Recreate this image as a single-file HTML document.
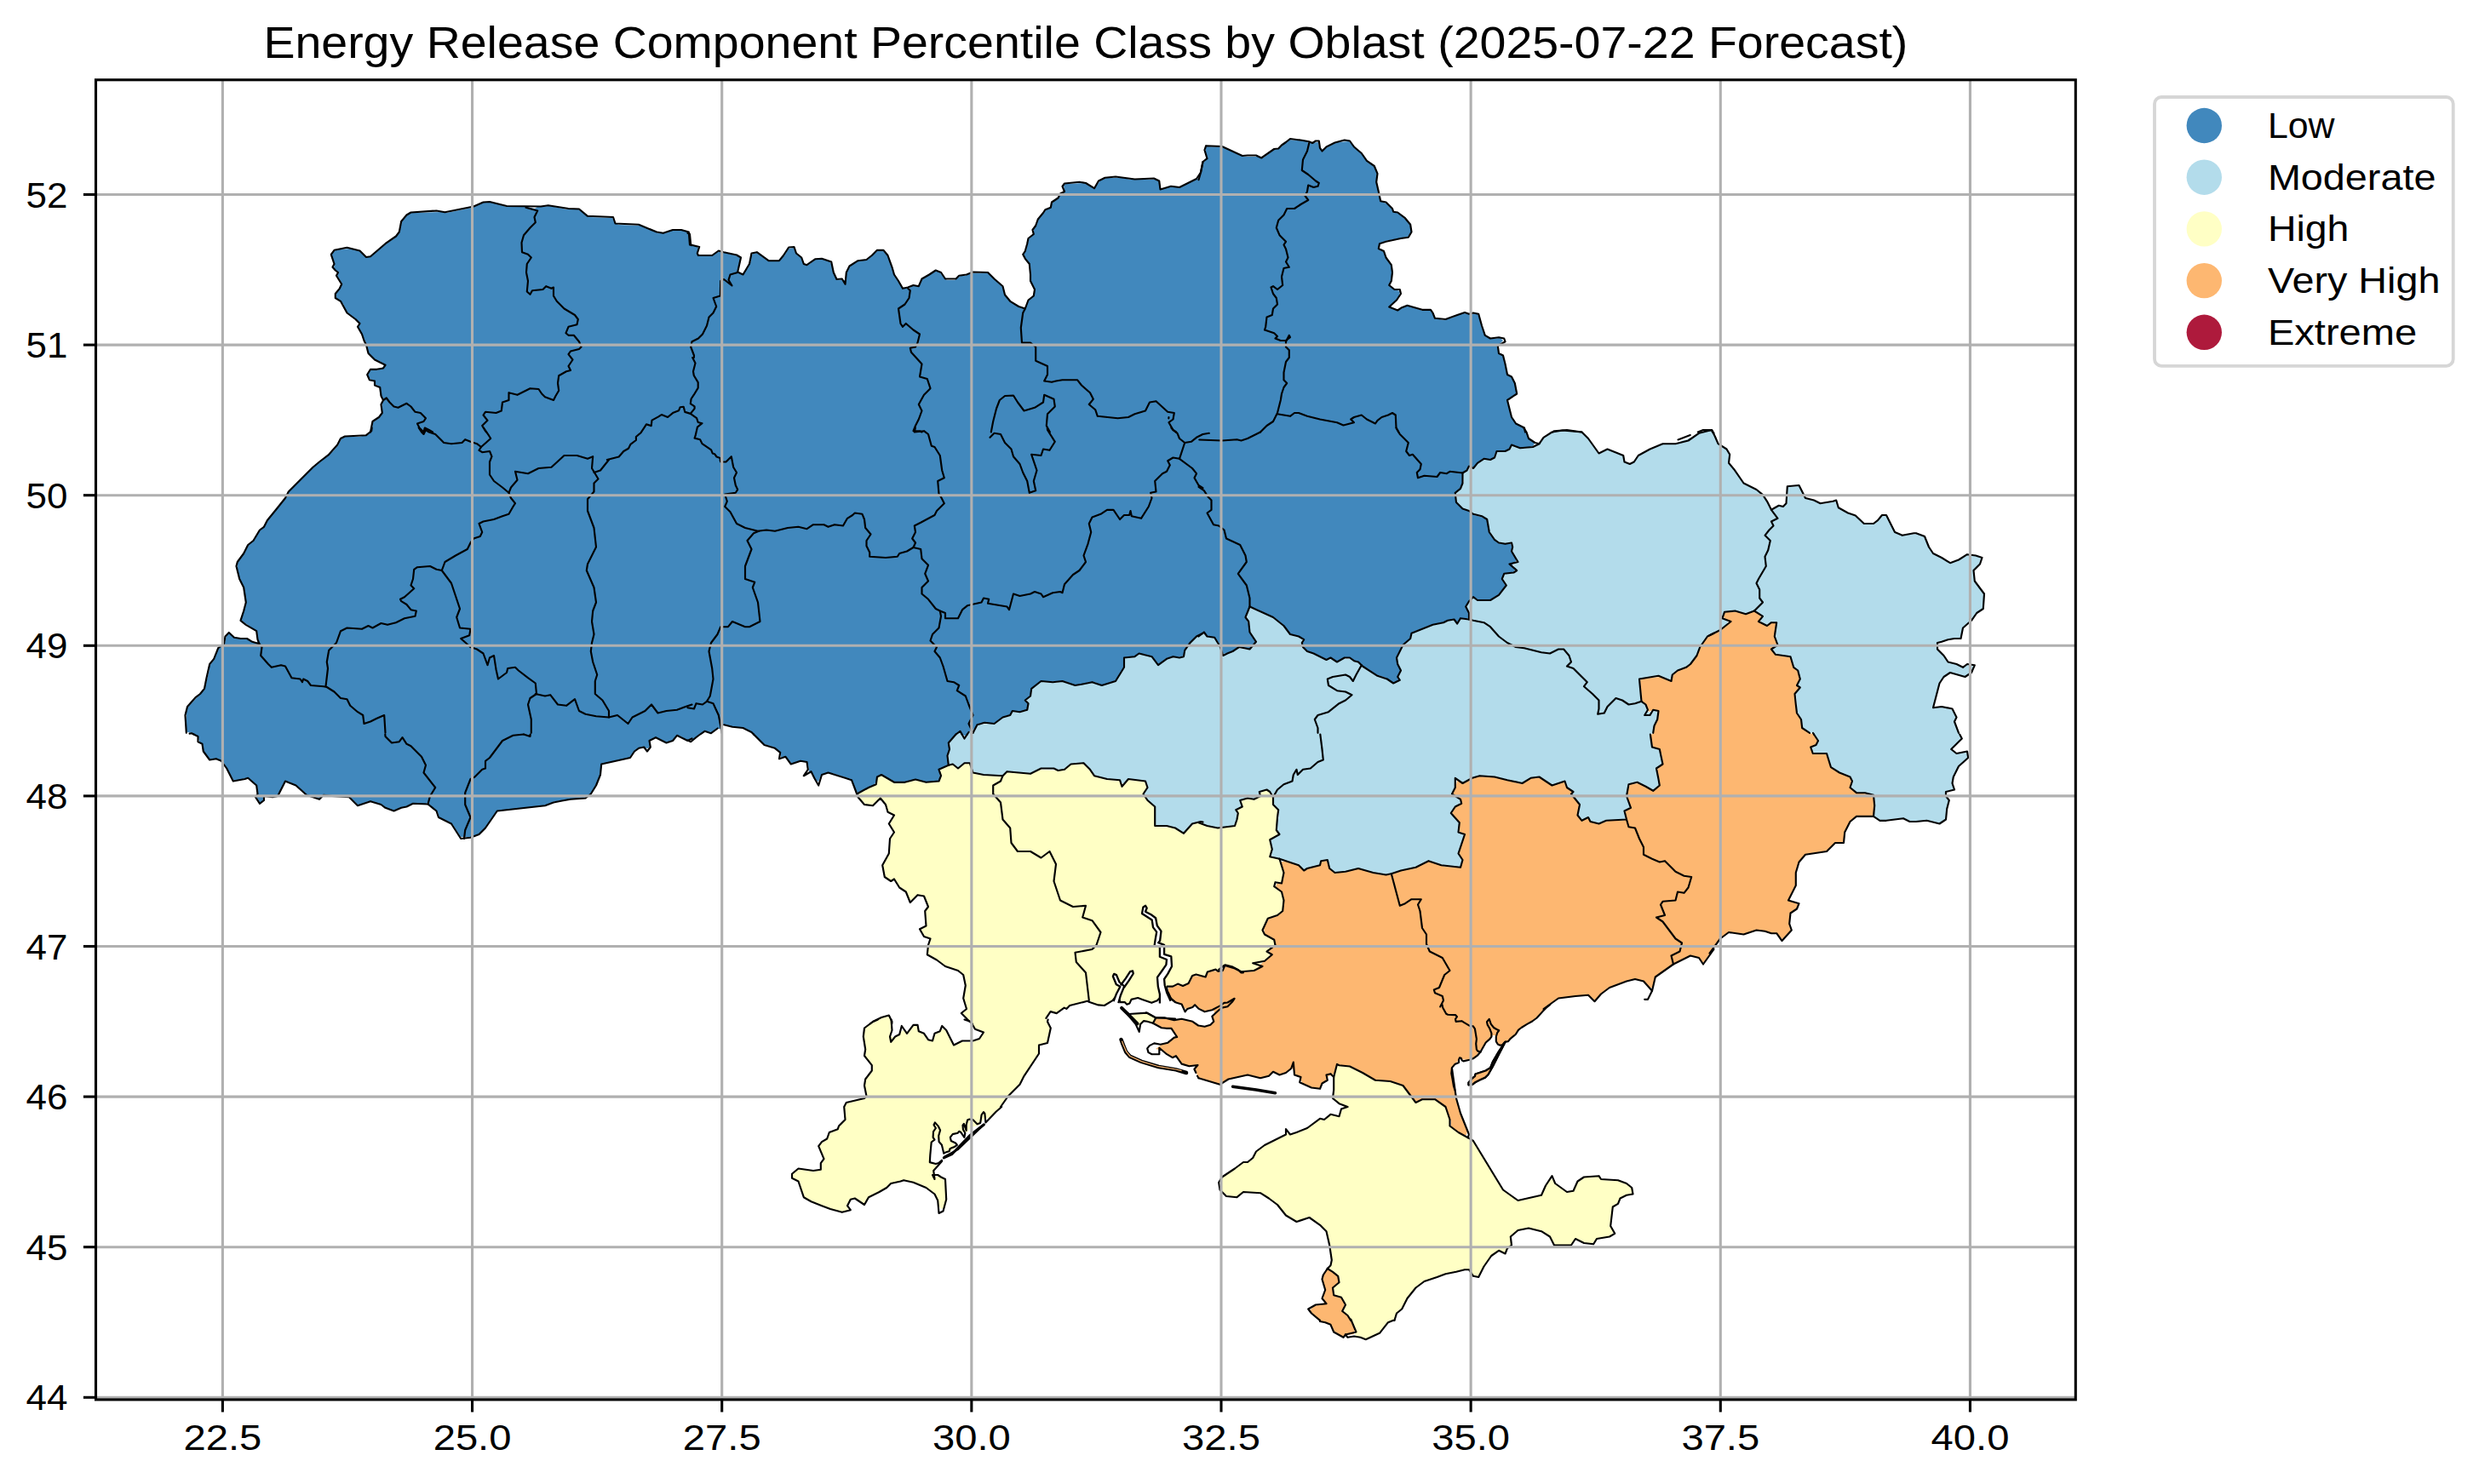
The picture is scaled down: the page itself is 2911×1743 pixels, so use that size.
<!DOCTYPE html>
<html><head><meta charset="utf-8"><style>html,body{margin:0;padding:0;background:#fff;overflow:hidden}svg{display:block}</style></head>
<body><svg xmlns="http://www.w3.org/2000/svg" width="2911" height="1743" viewBox="0 0 2911 1743">
<rect width="2911" height="1743" fill="#fff"/>
<g><path fill="#4188bd" fill-rule="evenodd" d="M1802 521 1794 514 1793 509 1790 504 1787 501 1780 498 1774 489 1770 471 1772 468 1779 464 1781 461 1779 451 1775 443 1771 441 1769 438 1765 418 1761 416 1759 413 1759 406 1765 400 1762 397 1750 398 1743 393 1739 382 1738 375 1735 369 1717 368 1706 373 1695 376 1686 374 1683 371 1683 369 1680 365 1671 365 1656 360 1650 360 1641 365 1636 363 1633 360 1643 348 1644 342 1637 340 1632 336 1635 321 1633 310 1628 304 1625 296 1619 292 1619 288 1622 285 1627 283 1653 278 1657 273 1657 267 1654 261 1643 251 1637 249 1630 240 1623 237 1620 234 1620 230 1616 216 1617 203 1614 196 1607 191 1600 182 1584 166 1570 167 1553 176 1549 172 1548 167 1537 168 1534 166 1514 164 1501 175 1496 176 1484 185 1481 186 1478 184 1461 184 1457 183 1437 173 1417 172 1416 173 1416 180 1418 186 1413 191 1411 202 1408 209 1384 221 1383 220 1372 220 1364 222 1362 220 1361 213 1358 211 1328 211 1319 209 1299 209 1292 212 1285 221 1273 215 1251 216 1249 218 1250 224 1235 239 1234 243 1229 246 1219 258 1217 265 1214 269 1214 275 1208 281 1205 294 1202 299 1204 304 1210 312 1211 331 1215 338 1215 346 1208 353 1203 362 1199 362 1186 354 1180 347 1177 337 1161 321 1140 321 1133 324 1128 324 1121 329 1112 329 1109 327 1103 319 1098 319 1084 327 1082 329 1081 333 1078 336 1071 336 1067 339 1061 339 1051 325 1043 302 1038 295 1030 295 1019 305 1007 307 999 312 995 318 992 329 985 329 981 326 978 319 977 311 974 307 968 305 957 305 951 310 947 312 943 309 941 303 935 298 932 291 926 292 921 300 913 307 901 306 889 297 884 298 882 301 882 306 878 315 871 322 867 319 867 313 869 307 869 303 867 301 848 296 842 296 834 301 823 301 819 298 820 291 817 289 814 289 810 286 809 275 806 272 803 271 788 271 781 274 773 274 753 265 726 264 721 260 719 256 692 255 682 247 679 246 666 246 646 242 631 243 628 245 619 243 595 243 578 238 567 238 554 244 524 250 519 249 483 250 479 252 472 260 469 274 463 280 452 287 436 301 430 302 422 295 412 292 397 293 392 295 390 298 390 302 393 309 392 315 397 320 396 324 401 332 401 336 395 344 395 350 403 357 407 366 422 379 421 384 430 403 433 415 440 422 447 425 451 429 448 433 442 435 435 435 432 440 433 444 438 447 441 452 444 453 447 456 448 465 451 469 449 473 449 486 445 491 438 496 436 507 433 510 422 513 405 513 401 515 397 523 391 530 371 546 339 578 336 585 314 611 311 618 305 623 299 634 292 640 287 650 279 660 279 670 282 681 287 690 288 700 289 701 289 710 284 725 284 729 302 742 303 753 301 755 298 755 291 751 277 750 269 744 266 746 264 755 256 762 252 774 246 782 246 786 240 810 220 831 219 835 219 858 220 860 226 861 233 866 234 871 239 876 239 882 247 892 256 891 263 896 274 916 277 917 288 914 292 914 302 923 303 933 301 936 305 942 307 942 309 940 311 935 316 935 317 936 325 935 327 933 333 920 335 918 339 918 349 923 361 934 373 938 377 937 380 934 411 936 420 945 423 945 433 941 437 941 444 944 447 944 454 949 461 952 466 951 471 948 476 948 483 944 500 944 502 943 514 954 516 960 529 966 532 969 541 983 549 983 550 984 562 980 572 970 580 957 585 952 635 947 646 944 649 942 659 940 688 937 694 932 698 926 705 909 706 899 708 897 739 890 745 882 750 878 761 879 763 877 763 870 767 867 770 866 783 872 789 870 796 864 800 865 806 869 813 869 826 859 836 860 841 856 846 856 846 854 851 851 861 854 874 855 882 859 897 874 910 878 916 883 917 889 923 889 930 897 937 894 946 894 949 898 950 906 955 910 958 916 961 918 964 911 969 908 977 908 999 915 1001 917 1005 929 1007 931 1011 930 1026 922 1029 918 1030 913 1034 910 1038 911 1052 919 1061 919 1070 916 1080 916 1088 919 1089 918 1100 918 1103 916 1104 913 1103 904 1113 898 1113 884 1115 880 1114 872 1125 860 1128 860 1132 864 1134 864 1137 860 1142 858 1149 850 1153 849 1164 849 1166 850 1169 849 1176 843 1183 840 1186 840 1189 835 1198 836 1205 834 1207 830 1207 826 1205 824 1205 822 1210 816 1211 809 1222 800 1229 800 1230 801 1250 800 1263 805 1280 801 1285 801 1292 804 1297 804 1304 801 1307 801 1311 798 1320 783 1320 774 1322 772 1332 771 1336 768 1343 768 1353 771 1358 778 1361 780 1370 773 1376 771 1381 772 1388 771 1390 769 1391 763 1396 756 1405 747 1409 746 1411 744 1415 744 1420 748 1426 748 1433 758 1435 766 1437 768 1445 766 1454 760 1467 762 1470 760 1474 754 1467 742 1467 735 1463 726 1464 719 1468 713 1475 715 1496 725 1505 732 1516 745 1527 748 1530 751 1530 759 1536 765 1543 767 1556 774 1565 773 1570 777 1577 773 1587 773 1590 776 1595 777 1599 782 1607 786 1615 792 1627 796 1636 802 1642 799 1641 795 1644 789 1644 786 1640 777 1640 771 1646 759 1656 750 1657 745 1660 742 1680 734 1695 731 1701 728 1708 728 1710 730 1712 730 1715 726 1720 727 1724 726 1725 721 1721 713 1724 707 1730 701 1737 705 1748 705 1758 700 1768 688 1764 681 1765 676 1768 673 1775 673 1779 670 1776 663 1780 659 1780 656 1775 648 1776 643 1774 639 1762 639 1757 636 1750 628 1748 624 1746 611 1743 608 1731 605 1725 600 1718 598 1710 590 1709 578 1715 573 1718 566 1717 556 1726 548 1730 549 1741 539 1748 539 1749 540 1754 538 1756 532 1758 530 1767 530 1771 528 1775 523 1779 523 1785 526 1791 526 1800 524Z"/><path fill="#b3dceb" fill-rule="evenodd" d="M2326 656 2321 653 2309 652 2296 660 2289 661 2271 651 2264 642 2262 635 2259 630 2252 627 2232 629 2226 626 2215 606 2210 606 2201 615 2191 616 2186 613 2179 606 2172 604 2162 599 2158 595 2157 591 2155 589 2140 592 2131 588 2121 586 2112 571 2100 572 2099 573 2099 589 2094 595 2087 595 2081 598 2077 594 2072 584 2064 576 2049 569 2045 565 2039 555 2030 544 2031 536 2028 528 2021 524 2016 519 2012 509 2009 506 2003 506 1996 508 1988 514 1984 514 1981 516 1976 517 1967 522 1951 522 1926 534 1915 545 1909 544 1907 541 1906 536 1904 534 1899 533 1891 529 1885 529 1880 532 1877 532 1863 513 1857 508 1851 508 1843 506 1825 507 1813 514 1807 522 1803 522 1800 525 1791 527 1785 527 1779 524 1775 524 1771 529 1767 531 1758 531 1756 537 1754 539 1749 541 1748 540 1741 540 1730 550 1726 549 1718 556 1719 566 1716 573 1710 578 1711 590 1718 597 1725 599 1731 604 1743 607 1747 611 1749 624 1757 635 1762 638 1774 638 1777 642 1776 648 1781 656 1781 659 1777 663 1780 670 1775 674 1768 674 1766 676 1765 681 1769 688 1765 694 1758 701 1748 706 1737 706 1730 702 1725 707 1722 713 1726 721 1724 727 1721 728 1715 727 1712 731 1710 731 1708 729 1701 729 1695 732 1680 735 1660 743 1658 745 1657 750 1647 759 1641 771 1641 777 1645 786 1645 789 1642 795 1643 799 1639 802 1636 803 1627 797 1615 793 1607 787 1599 783 1595 778 1590 777 1587 774 1577 774 1570 778 1565 774 1556 775 1543 768 1536 766 1529 759 1529 751 1527 749 1516 746 1509 737 1496 726 1475 716 1468 714 1465 719 1464 726 1467 731 1468 742 1475 753 1474 756 1469 762 1464 763 1454 761 1445 767 1437 769 1434 766 1432 758 1426 749 1420 749 1415 745 1411 745 1409 747 1405 748 1397 756 1392 763 1391 769 1386 773 1376 772 1370 774 1361 781 1357 778 1353 772 1343 769 1336 769 1332 772 1322 773 1321 774 1321 783 1312 798 1307 802 1304 802 1297 805 1292 805 1285 802 1280 802 1263 806 1250 801 1242 801 1241 802 1222 801 1212 809 1211 816 1206 822 1206 824 1208 826 1208 830 1205 835 1198 837 1189 836 1186 841 1180 842 1166 851 1164 850 1149 851 1142 859 1137 861 1134 865 1132 865 1128 861 1125 861 1115 872 1116 880 1114 884 1114 897 1120 898 1124 901 1126 901 1132 896 1138 896 1141 900 1142 905 1146 908 1155 910 1177 911 1182 906 1197 907 1198 908 1211 908 1220 903 1248 904 1258 897 1273 896 1282 905 1284 909 1288 912 1300 915 1314 916 1318 920 1320 920 1325 915 1344 917 1348 924 1344 931 1344 934 1347 939 1356 947 1357 950 1357 969 1377 971 1388 977 1391 977 1403 966 1411 966 1418 970 1427 972 1448 970 1451 967 1453 961 1452 952 1458 947 1457 941 1460 938 1474 938 1479 934 1479 932 1483 928 1490 928 1496 934 1496 945 1501 950 1502 953 1501 963 1500 964 1500 976 1502 980 1499 983 1493 986 1493 993 1494 994 1493 1005 1496 1007 1501 1008 1505 1011 1512 1011 1524 1015 1530 1021 1534 1021 1536 1019 1547 1017 1550 1015 1550 1013 1552 1011 1558 1010 1561 1015 1562 1020 1565 1023 1570 1025 1571 1024 1579 1024 1592 1020 1598 1020 1609 1024 1624 1027 1634 1027 1638 1024 1644 1022 1661 1019 1677 1011 1680 1011 1697 1017 1714 1018 1717 1010 1713 1004 1713 999 1719 981 1713 977 1713 966 1704 955 1708 948 1715 943 1714 939 1708 935 1705 931 1709 923 1709 918 1711 916 1719 919 1729 913 1736 911 1742 911 1743 912 1756 912 1787 920 1798 913 1810 913 1823 922 1834 918 1837 918 1839 920 1840 924 1847 930 1846 933 1855 944 1854 958 1858 963 1862 961 1865 961 1869 965 1878 967 1889 963 1905 963 1908 962 1909 959 1908 958 1908 953 1914 948 1910 937 1910 931 1913 921 1918 919 1925 919 1941 928 1948 922 1948 917 1945 904 1952 896 1950 885 1948 881 1940 877 1938 869 1938 863 1941 860 1942 852 1946 845 1947 838 1945 835 1941 835 1936 837 1934 834 1933 829 1927 823 1925 799 1929 796 1935 796 1942 794 1950 794 1958 798 1962 798 1962 796 1966 790 1972 786 1981 783 1988 776 1994 766 1995 761 2007 746 2020 740 2028 733 2029 730 2023 725 2025 719 2027 718 2042 718 2050 721 2059 717 2062 717 2069 724 2069 726 2067 728 2068 731 2074 734 2080 731 2085 731 2086 732 2085 750 2088 756 2082 762 2082 764 2087 769 2102 771 2105 776 2107 784 2112 788 2114 799 2111 804 2113 808 2112 811 2109 814 2110 835 2115 844 2117 855 2125 860 2129 861 2135 869 2134 874 2128 878 2128 882 2132 885 2144 885 2147 889 2150 900 2153 903 2162 908 2171 911 2175 916 2174 925 2179 930 2196 932 2200 935 2202 941 2202 952 2200 958 2205 962 2210 964 2214 964 2215 963 2236 961 2245 965 2267 964 2278 967 2283 964 2285 961 2286 948 2288 943 2288 940 2285 936 2285 931 2287 929 2294 927 2293 913 2299 901 2310 891 2311 888 2309 884 2297 885 2292 881 2292 879 2303 868 2295 849 2296 847 2295 846 2297 842 2293 834 2283 831 2272 831 2271 830 2271 824 2277 802 2282 795 2289 790 2293 790 2304 794 2309 794 2315 790 2317 782 2309 781 2304 784 2297 780 2288 778 2283 771 2275 763 2275 756 2277 754 2286 751 2302 749 2305 737 2317 726 2321 720 2328 715 2329 713 2329 703 2330 702 2329 696 2318 681 2318 669 2325 662Z"/><path fill="#ffffc5" fill-rule="evenodd" d="M1432 1389 1434 1398 1442 1405 1452 1406 1460 1400 1481 1401 1496 1411 1511 1428 1521 1434 1525 1434 1535 1430 1539 1430 1548 1436 1558 1446 1564 1473 1564 1484 1561 1488 1561 1490 1572 1499 1573 1506 1566 1512 1567 1520 1569 1522 1575 1523 1577 1525 1580 1531 1578 1541 1584 1546 1590 1556 1592 1561 1591 1568 1603 1573 1619 1566 1631 1552 1637 1550 1640 1542 1647 1536 1655 1521 1664 1511 1672 1505 1693 1498 1696 1496 1709 1494 1718 1491 1725 1491 1730 1498 1735 1499 1738 1496 1742 1487 1751 1475 1759 1469 1767 1471 1769 1467 1775 1461 1774 1460 1774 1452 1784 1444 1800 1443 1811 1446 1819 1451 1824 1460 1828 1463 1843 1463 1851 1455 1861 1460 1869 1461 1877 1454 1888 1453 1892 1451 1895 1447 1891 1441 1893 1419 1895 1416 1900 1413 1901 1409 1904 1406 1910 1403 1916 1402 1917 1399 1915 1394 1910 1390 1905 1389 1902 1387 1882 1386 1877 1382 1872 1382 1871 1383 1861 1383 1852 1389 1851 1393 1847 1399 1839 1400 1829 1393 1823 1385 1821 1385 1815 1393 1812 1401 1808 1405 1787 1410 1782 1410 1764 1397 1731 1342 1723 1334 1719 1334 1713 1331 1703 1323 1703 1317 1696 1299 1686 1292 1669 1292 1664 1295 1658 1290 1647 1275 1635 1271 1617 1270 1586 1253 1577 1253 1576 1252 1571 1252 1570 1253 1569 1258 1565 1264 1567 1270 1566 1290 1578 1300 1572 1311 1562 1310 1556 1315 1549 1315 1539 1323 1530 1328 1519 1332 1511 1331 1507 1335 1484 1346 1475 1353 1470 1362 1466 1365 1459 1366 1452 1372 1436 1382ZM1328 1193 1330 1198 1337 1205 1343 1199 1354 1201 1356 1197 1353 1193 1349 1191 1333 1191ZM1495 934 1490 929 1483 929 1480 932 1480 934 1474 939 1460 939 1458 941 1459 947 1453 952 1454 961 1452 967 1448 971 1427 973 1418 971 1411 967 1403 967 1391 978 1388 978 1377 972 1360 971 1356 969 1356 950 1355 947 1346 939 1343 934 1343 931 1347 925 1344 918 1325 916 1320 921 1318 921 1314 917 1300 916 1288 913 1283 909 1281 905 1273 897 1258 898 1248 905 1220 904 1211 909 1198 909 1197 908 1182 907 1177 912 1155 911 1146 909 1141 905 1140 900 1138 897 1132 897 1126 902 1124 902 1120 899 1114 898 1104 904 1105 913 1104 916 1100 919 1089 919 1088 920 1080 917 1070 917 1061 920 1052 920 1042 914 1034 911 1031 913 1030 918 1026 923 1011 931 1007 932 1008 936 1017 945 1023 946 1026 945 1034 938 1036 939 1040 944 1043 953 1050 958 1045 966 1046 967 1045 969 1050 977 1046 984 1045 1001 1037 1016 1039 1029 1045 1034 1051 1034 1054 1037 1055 1040 1064 1047 1067 1055 1069 1057 1071 1057 1078 1051 1084 1052 1086 1054 1090 1063 1087 1070 1088 1086 1086 1089 1082 1091 1082 1094 1086 1100 1090 1101 1092 1103 1090 1113 1090 1121 1102 1128 1109 1134 1124 1139 1132 1145 1134 1153 1134 1163 1133 1164 1132 1174 1135 1185 1131 1189 1131 1191 1135 1197 1142 1202 1145 1208 1151 1210 1154 1213 1154 1215 1147 1222 1141 1224 1128 1224 1121 1227 1117 1223 1111 1210 1108 1208 1100 1213 1094 1222 1091 1222 1085 1214 1078 1210 1077 1205 1072 1205 1066 1212 1060 1210 1054 1217 1048 1218 1046 1216 1047 1200 1044 1194 1036 1195 1024 1201 1016 1207 1015 1210 1015 1223 1017 1230 1016 1241 1025 1253 1024 1259 1017 1267 1016 1271 1016 1278 1018 1286 1014 1291 995 1295 992 1299 993 1315 986 1322 983 1327 975 1330 972 1337 963 1344 962 1347 968 1361 965 1365 964 1373 956 1376 946 1374 936 1374 931 1378 931 1383 939 1389 944 1405 947 1408 962 1415 982 1422 991 1423 996 1421 995 1415 1000 1408 1006 1408 1015 1414 1020 1406 1041 1395 1046 1390 1056 1388 1060 1386 1064 1386 1080 1391 1093 1398 1099 1404 1102 1410 1102 1415 1104 1419 1106 1420 1108 1418 1111 1410 1110 1387 1108 1384 1104 1382 1098 1382 1097 1381 1096 1375 1099 1372 1100 1368 1096 1367 1092 1364 1092 1353 1093 1352 1093 1343 1099 1336 1107 1345 1109 1353 1114 1354 1122 1348 1121 1344 1116 1339 1116 1335 1120 1331 1123 1331 1126 1329 1127 1330 1136 1330 1140 1324 1149 1322 1156 1314 1162 1313 1175 1301 1175 1299 1183 1288 1197 1274 1201 1265 1219 1239 1220 1229 1223 1226 1226 1226 1230 1224 1233 1211 1233 1206 1230 1201 1229 1196 1230 1195 1229 1194 1233 1189 1235 1188 1236 1189 1242 1189 1247 1185 1252 1184 1258 1180 1272 1177 1276 1175 1279 1175 1286 1179 1296 1181 1305 1176 1312 1170 1315 1175 1321 1179 1326 1178 1330 1173 1333 1172 1338 1172 1350 1177 1354 1177 1359 1175 1366 1168 1371 1166 1371 1160 1372 1159 1375 1159 1381 1156 1391 1157 1395 1155 1401 1145 1415 1146 1420 1140 1433 1139 1440 1134 1447 1135 1457 1141 1464 1141 1474 1139 1483 1129 1491 1123 1489 1116 1495 1112 1497 1109 1495 1103 1484 1097 1483 1090 1488 1080 1492 1077 1500 1075 1506 1069 1507 1065 1507 1056 1505 1048 1497 1042 1497 1039 1499 1037 1504 1036 1506 1033 1507 1024 1504 1016 1504 1011 1501 1009 1496 1008 1492 1005 1493 1000 1492 986 1501 980 1499 976 1499 964 1500 963 1501 953 1500 950 1495 945Z"/><path fill="#fdb771" fill-rule="evenodd" d="M1559 1491 1554 1498 1554 1507 1557 1515 1554 1522 1555 1530 1553 1532 1543 1534 1538 1539 1541 1543 1552 1552 1562 1555 1564 1557 1566 1563 1575 1569 1578 1570 1582 1568 1590 1567 1591 1561 1589 1556 1583 1546 1577 1541 1579 1531 1576 1525 1569 1523 1566 1520 1565 1517 1565 1512 1572 1506 1571 1499 1561 1491ZM2200 937 2196 933 2179 931 2173 925 2174 920 2173 914 2171 912 2162 909 2153 904 2149 900 2146 889 2144 886 2132 886 2127 882 2127 878 2133 874 2134 869 2129 862 2125 861 2116 855 2114 844 2109 835 2108 814 2111 811 2112 807 2110 804 2113 799 2111 788 2106 784 2102 772 2087 770 2081 764 2081 762 2087 756 2084 750 2085 732 2080 732 2075 735 2068 732 2066 730 2068 724 2062 718 2059 718 2050 722 2042 719 2027 719 2025 720 2024 725 2030 730 2029 733 2020 741 2007 747 2003 751 1996 761 1992 772 1981 784 1972 787 1966 791 1962 799 1958 799 1950 795 1929 797 1926 799 1928 823 1934 829 1936 836 1941 834 1945 834 1948 838 1947 845 1943 852 1942 860 1939 863 1939 869 1941 877 1947 879 1951 885 1953 896 1946 904 1949 917 1949 922 1941 929 1925 920 1914 921 1911 931 1911 937 1915 948 1909 953 1909 958 1910 959 1908 963 1905 964 1889 964 1878 968 1869 966 1865 962 1862 962 1858 964 1853 958 1854 944 1845 933 1846 930 1839 924 1837 919 1834 919 1823 923 1810 914 1798 914 1787 921 1756 913 1736 912 1729 914 1719 920 1711 917 1709 926 1706 931 1708 934 1715 939 1716 943 1709 948 1705 955 1714 966 1714 977 1717 978 1720 981 1714 999 1714 1004 1718 1010 1718 1012 1714 1019 1697 1018 1680 1012 1677 1012 1661 1020 1644 1023 1638 1025 1634 1028 1624 1028 1609 1025 1598 1021 1592 1021 1579 1025 1571 1025 1570 1026 1565 1024 1561 1020 1558 1011 1552 1012 1551 1015 1547 1018 1536 1020 1534 1022 1530 1022 1524 1016 1512 1012 1505 1012 1505 1016 1508 1024 1507 1033 1504 1037 1499 1038 1498 1042 1506 1048 1508 1056 1507 1069 1500 1076 1490 1079 1484 1090 1485 1097 1495 1102 1498 1107 1497 1111 1490 1116 1492 1123 1487 1128 1483 1130 1472 1141 1457 1142 1447 1136 1440 1135 1433 1140 1420 1141 1415 1147 1401 1146 1397 1154 1391 1158 1381 1157 1378 1159 1372 1160 1372 1167 1375 1172 1381 1177 1387 1179 1392 1185 1404 1181 1412 1187 1425 1187 1426 1188 1426 1191 1424 1194 1425 1201 1422 1204 1417 1206 1409 1206 1401 1200 1397 1200 1392 1198 1357 1196 1355 1200 1356 1202 1365 1207 1376 1208 1381 1215 1381 1217 1372 1225 1364 1227 1357 1232 1366 1234 1375 1241 1382 1241 1386 1247 1390 1250 1396 1252 1403 1252 1404 1253 1404 1258 1407 1265 1430 1273 1433 1273 1443 1267 1459 1263 1470 1263 1481 1266 1489 1264 1495 1259 1503 1262 1510 1260 1514 1256 1518 1255 1521 1262 1524 1263 1527 1266 1529 1272 1542 1278 1549 1278 1551 1276 1551 1274 1558 1268 1560 1264 1562 1263 1564 1264 1568 1258 1568 1255 1571 1251 1586 1252 1607 1263 1614 1268 1635 1270 1647 1274 1659 1290 1664 1294 1669 1291 1686 1291 1698 1300 1704 1317 1704 1323 1713 1330 1719 1333 1722 1333 1723 1328 1714 1307 1714 1304 1710 1293 1709 1282 1707 1278 1707 1273 1705 1266 1705 1253 1714 1244 1725 1245 1733 1241 1735 1239 1736 1235 1741 1231 1744 1225 1753 1216 1755 1216 1757 1218 1758 1225 1762 1228 1764 1228 1767 1224 1772 1222 1780 1214 1783 1209 1801 1198 1819 1180 1831 1172 1843 1171 1844 1170 1853 1170 1854 1169 1866 1169 1873 1175 1881 1166 1889 1160 1909 1152 1917 1150 1923 1150 1930 1152 1938 1160 1940 1160 1944 1147 1968 1130 1970 1130 1983 1123 1994 1124 1999 1130 2001 1130 2020 1102 2029 1095 2048 1097 2059 1093 2072 1093 2080 1096 2086 1096 2093 1103 2103 1093 2101 1087 2102 1074 2104 1071 2110 1067 2111 1062 2102 1058 2101 1054 2109 1038 2109 1021 2112 1013 2121 1003 2146 999 2155 990 2164 989 2166 983 2166 977 2171 967 2179 959 2196 959 2199 958 2201 952Z"/></g>
<g fill="none" stroke="#000" stroke-width="2.15" stroke-linejoin="round" stroke-linecap="round"><polyline points="812.5,288.1 810,287.5 808.8,272.5 800,270 790,270 778.8,273.8 771.2,272.5 750,263.8 722.5,262.5 720,255 690,253.8 680,245.5 667.5,245 643.8,241.2 635,242.5 595,242 575,237 567.5,237.5 556.2,242.5 522.5,249.2 512.5,247.5 482.5,249.5 477.5,252.5 471.2,260 468.8,272.5 465,277.5 452.5,286.2 435,301.2 430,302 422.5,294.5 407.5,290.8 392.5,293.8 388.8,298.8 392.5,310 390.5,313.8 393.8,317.5 397,320 395,323.8 401.2,333.8 398.8,338.8 393.8,345 393.8,350 400,353.8 407.5,367.5 417.5,375 422.5,380 420,383.8 425,392.5 427.5,400 430,405 432.5,415 440,422.5 452.5,428.8 450,432.5 442.5,433.8 435,433.8 431.2,440 433.8,446.2 440,447.5 440,452.5 446.2,455 447.5,465 450,470 447.5,475 448.8,485 445,490 437.5,495 435,507.5"/><polyline points="617.5,243.8 631.2,247.5 627.5,255 628.8,261.2 622.5,267.5 615,276.2 612.5,285 613,296.2 620,298.8 623.8,302.5 618.8,310 618,320 620,330 618.8,342.5 622.5,345.8 625,341.2 637.5,340 641.2,336.2 647.5,338.8 650,337.5 650,347.5 653.8,353.8 662.5,362.5 675,370 678.8,375 677.5,381.2 667.5,383.8 664.5,391.2 667.5,393.8 673.8,393.8 680,401.2 682.5,407.5 680,410 670,412.5 667.5,416.2 672.5,422.5 667.5,430 670,435 665,436.2 656.2,441.2 655,450 656.2,458.8 652.5,465 650,470 640,466.2 636.2,462.5 632.5,457 622.5,456.2 607.5,463.8 597.5,461.2 597.5,470 590,472.5 588.8,482.5 582.5,485 570,483.8 567.5,487.5 572.5,493.8 566.2,500 570,506.2 571.2,507.5"/><polyline points="450,470 453.8,467.5 457.5,472.5 462.5,477.5 467.5,478.8 477.5,473.8 482.5,477.5 487.5,483.8 493.8,485 500,491.2 497.5,495 490,497.5 492.5,502.5 497.5,507.5"/><polyline points="497.5,507.5 498.8,502.5 503.8,505 508.1,507.5"/><polyline points="712.9,540 726.7,536.5 732.3,530 738,526.8 740.4,521.9 746.9,517 746.9,513 752.6,508.2 757.4,500.9 759,498.4 764.7,500.1 765.5,493.6 772.8,489.6 776.8,487.1 784.1,490 790.6,484.7 797,482.3 798.7,478.2 802.7,477.8 804.3,483.9 810.8,485.9"/><polyline points="813.2,420 816.5,426.5 814,436.2 814.8,441 819.7,449.1 819.7,455.6 814.8,463.7 811.6,468.5 810.8,474.2 815.6,477.4 815.6,479.8 810.8,485.9 818.1,491.2 819.7,496 824.5,497.2 818.9,501.7 816.5,512.2 815.6,514.6 822.1,516.2 824.5,521.1 835.1,528.4 836.7,532.4 839.1,533.2 841.5,536.5 845.6,538.1"/><polyline points="1412.5,190 1410,202.5 1405,210 1385,220 1375,218.8 1362.5,222.5 1361.2,212.5 1355,209.5 1332.5,210.5 1310,207.5 1297.5,208.8 1290,212.5 1285,221.2 1275,215 1267.5,213.8 1250,215.5 1247.5,218.8 1250,225 1245,227.5 1242.5,232.5 1235,237.5 1233.8,243.8 1227.5,246.2 1225,250 1218.8,257.5 1216.2,265 1212.5,270 1213.8,275 1207.5,280 1206.2,286.2 1203.8,295 1201.2,298.8 1203.8,303.8 1208.8,310 1210,322.5 1210,330 1215,340 1213.8,347.5 1207.5,352.5 1203.8,362.5 1196.2,360 1186.2,353.8 1180,346.2 1177.5,336.2 1167.5,327.5 1160,320 1142.5,319.5 1135,322.5 1126.2,323.8 1122.5,327.5 1110,327.5 1105,320 1098.8,317.5 1091.2,322.5 1082.5,327.5 1078.8,336.2 1072.5,335 1066.2,337.5 1060,338.8 1055,330 1050,322.5 1047.5,313.8 1042.5,300 1037.5,293.8 1030,293.8 1023.8,300 1017.5,305 1007.5,306.2 997.5,312.5 993.8,320 992.5,333.8 988.8,327.5 982.5,328 978.8,320 976.2,307.5 965,303.8 957.5,304.2 947.5,311.2 943.8,310 941.2,302.5 935,297.5 932.5,290 926.2,290.5 920,300 915,306.2 902.5,306.2 888.8,296.2 882.5,297.5 880,310 872.5,322.5 866.2,319.5 870,302.5 865,299.5 850,296.2 843.8,294.5 836.2,300 820,300 818.8,297.5 821.2,290 811.2,287.5 810,275 807.5,273.8"/><polyline points="866.2,320 857.5,322.5 855.5,328.8 859.5,335.5 850,328 846.2,330 845.8,347.5 837.5,350 841.2,360 837.5,367.5 832.5,372.5 830,382.5 825,392.5 820,397.5 812.5,401.2 811.2,407.5 815,417.5 814.9,420"/><polyline points="1066.2,338.8 1068.8,341.2 1067.5,350 1062.5,357.5 1055,362.5 1057.5,380 1060,383.8 1063.8,380 1072.5,387.5 1080,392.5 1077.5,402.5 1075,407.5 1068.8,408.8 1070,413.8 1082.5,427.5 1080,442.5 1088.8,445 1092.5,456.2 1085,463.8 1078.8,475 1082.5,482.5 1078.8,492.5 1075,500 1072.5,506.2 1080,506.2 1082.5,507.5"/><polyline points="1203.8,362.5 1201.2,367.5 1198.8,385 1200,402.5 1210,402.5 1216.2,407.5 1216.2,423.8 1230,430 1230,440 1226.2,447.5 1235,448.8 1240,447.5 1247.5,446.2 1265,446.2 1270,452.5 1280,461.2 1283.8,468.8 1278.8,475 1286.2,481.2 1288.8,488.8 1312.5,491.2 1325,490 1332.5,486.2 1345,482.5 1350,472.5 1357.5,471.2 1371.2,483.8 1378.8,485 1377.5,492.5 1372.5,496.2 1377.5,505 1381.2,507.5"/><polyline points="1232.9,507.5 1228.8,500 1230,486.2 1238.8,477.5 1237.5,468.8 1226.2,463.8 1225,472.5 1215,478.8 1202.5,482.5 1195,472.5 1190,464.5 1180,465 1173.8,470 1170,480 1166.2,495 1163.8,507.5"/><polyline points="1791,507.5 1790,502.5 1780,497.5 1775,490 1770,470 1781.2,462.5 1778.8,450 1775,442.5 1770,440 1767.5,427.5 1765,417.5 1760,415 1758.8,406.2 1767.5,401.2 1766.2,397.5 1760,396.2 1750,397.5 1743.8,393.8 1740,382.5 1736.2,368.8 1730,367.5 1725,368.8 1720,367 1711.2,370 1697.5,375 1685,373.8 1682.5,367.5 1680,363.8 1670,363.8 1652.5,358.8 1646.2,361.2 1641.2,364.5 1631.2,360.5 1640,352.5 1645,345 1643.8,340 1637.5,340 1631.2,335 1633.8,330 1635,320 1633.8,311.2 1627.5,302.5 1625,295 1618.8,292 1620,286.2 1627.5,283.8 1645,280 1653.8,278.8 1657.5,272.5 1656.2,263.8 1650,256.2 1641.2,249.5 1636.2,248.8 1635,245 1627.5,237.5 1621.2,236.2 1618.8,225 1616.2,213.8 1617.5,203.8 1613.8,195 1605,188.8 1598.8,180 1590,172.5 1585,165.5 1578.8,164.5 1567.5,167.5 1557.5,172.5 1552.5,177.5 1550,173.8 1548.8,165.5 1545,165.5 1541.2,168 1537,166.2 1530,165 1515,163 1510,167 1505,170.5 1501.2,174.5 1496.2,175 1481.2,185.5 1475,182.5 1465,182.5 1458.8,183 1435,172 1416.2,171.2 1414.5,176.2 1417.5,186.2 1412.5,190 1410,202.5 1407.5,211.2"/><polyline points="1537.5,167 1535,177.5 1530,187.5 1528.8,200 1536.2,205 1545,212.5 1548.8,215 1547.5,218.8 1542.5,220 1536.2,217.5 1535,225 1532.5,230 1536.2,235 1527.5,240 1520,245 1511.2,245 1507.5,252.5 1501.2,258.8 1498.8,267.5 1502.5,276.2 1510,283.8 1507.5,287.5 1510,292.5 1512.5,302.5 1510,307.5 1513.8,313.8 1507.5,315 1505,325 1506.2,335 1500,340 1495,336.2 1492.5,337.5 1495,345 1498.8,350 1500,357.5 1495,362.5 1493.8,370 1487.5,372.5 1486.2,383.8 1485,387.5 1496.2,391.2 1500,395 1497.5,397.5 1503.8,400 1510,400 1511,399.2"/><polyline points="1511,399.2 1515,396.2 1513.8,393.8 1511,399.2"/><polyline points="1511,399.2 1510,401.2 1510,407.5 1513.8,411.2 1513.8,420 1510,425 1507.5,437.5 1507.5,446.2 1511.2,450 1507.5,455 1505,462.5 1503.8,470 1500,485 1495,495 1487.5,500 1480,507.5"/><polyline points="1480,507.5 1472.5,511.2 1465,515 1457.5,517.5 1452.5,516.2 1435,517.5 1408.3,516.5"/><polyline points="1500,486.2 1515,488.8 1520,485 1525,485 1535,488.8 1550,492.5 1570,496.2 1577.5,499.5 1590,496.2 1586.2,492.5 1590,490 1598.8,487.5 1605,492.5 1615,497.5 1617.5,493.8 1622.5,490 1630,487.5 1635,485 1638.8,487.5 1639.5,502.5 1642.3,507.5"/><polyline points="1823.3,507.5 1825,506.2 1840,505 1857.5,507.5"/><polyline points="1993.8,507.5 2000,505 2010,505 2011,507.5"/><polyline points="1970.5,516.4 1984.8,511"/><polyline points="436.7,502.5 436.2,506.2 430,511.2 405,512.5 400,515 396.2,522.5 386.2,533.8 375,542.5 367.5,548.8 352.5,563.8 338.8,577.5 335,585 325,597.5 313.8,611.2 310,618.8 305,622.5 297.5,635 291.2,640 286.2,650 278.8,660 277.5,665 281.2,680 286.2,690 288.8,707.5 286.2,717.5 282.5,728.8 288.8,733.8 301.2,741.2 302.5,751.2 304.5,756.2 296.2,753.8 290,750 282.5,750 275,748.8 268.8,743 264.5,747.5 263,756.2 256.2,761.2 251.2,773.8 246.2,780 242.5,796.2 240,808.8 235,815 230,818.8 220,830 217.5,840 218.8,860.8"/><polyline points="304.5,756.2 307.5,760 306.2,770 315,780 318.8,783.8 330,781.2 335,782.5 342.5,796.2 352.5,797.5 355,801.2 356.2,797.5 361.2,800 365,805 380,806.2 383.8,807 392.5,812.5 400,820 407.5,821.2 411.2,828.8 420,836.2 426.2,840 427.5,850 435,847.5 442.5,843.8 451.2,840 452.5,860.8"/><polyline points="382.5,806.2 385,785 383.8,777.5 386.2,763.8 390,760 395,755 400,741.2 407.5,737.5 425,738.8 432.5,735 437.5,737.5 447.5,732 455,733.8 465,731.2 475,726.2 487.5,723.8 488.8,717.5 482.5,716.2 477.5,710 471.2,706.2 470,703.8 475,701.2 486.2,691.2 482.5,687.5 485,680 486.2,668.8 490,666.2 505,665 512.5,668.8 518.8,670"/><polyline points="518.8,670 522.5,660 535,652.5 548.8,645 552.5,637.5 556.2,632.5 563.8,630 566.2,625 562.5,615 567.5,612.5 580,610 590,606.2 597.5,603.8 602.5,595 605,591.2 600,585 597.5,578.8 590,572.5 580,565 575,557.5 575,542.5 577.5,536.2 575,530 566.2,531.2 562.5,528.8 565,525 576.2,515 573.8,511.2 567.9,502.5"/><polyline points="565,525 560,521.2 552.5,518.8 546.2,516.2 542.5,520 530,521.2 521.2,520 517.5,516.2 511.2,510 503.8,507.5 500,505 497.5,510 495,507.5 491.7,502.5"/><polyline points="518.8,670 530,685 535,700 540,715 536.2,725 540,737.5 552.5,738.8 551.2,746.2 541.2,750 552.5,760"/><polyline points="552.5,760 560,762.5 567.5,767.5 572.5,781.2 575,772.5 580,770 582.5,786.2 585,797.5 595,790 596.2,785 605,783.8 608.8,787.5 620,796.2 628.8,802.5 630,815 622.5,820 620,827.5 623.8,845 623.8,860.8"/><polyline points="628.8,815 640,817.5 646.2,816.2 655,827.5 665,828.8 675,821.2 680,835 687.5,838.8 700,841.2 715,842.5 725,840 737.5,850 742.5,842.5 750,838.8 757.5,835 765,827.5 772.5,837.5 782.5,835 795,833.8 805,830 812.5,827.5"/><polyline points="597.5,578.8 600,572.5 607.5,563.8 605,553.8 620,556.2 627.5,552.5 632.5,550 647.5,548.8 662.5,535 677.5,535 690,538.8 696.2,536.2 695,550 702.5,562.5 697.5,567.5 697.5,577.5 690,586.2 690,600 697.5,620 700,642.5 695,652.5 690,662.5 688.8,670 697.5,690 700,707.5 696.2,717.5 695,730 697.5,745 695,755 693.8,765 696.2,777.5 701.2,792.5 698.8,800 698.8,815 707.5,822.5 715,835 715,842.5"/><polyline points="697.5,555 705,552.5 715,540"/><polyline points="845.6,540 846.2,542.5 852.5,542.5 858.8,536.2 861.2,548.8 865,555 862,561.2 863.8,570 866.2,575 863.8,578.8 851.2,580.5 853.8,588.8 851.2,595 857.5,601.2 865,615 875,620 890,623.8 900,622.5 910,623.8 925,620 937.5,618.8 947.5,621.2 955,616.2 967.5,616.2 972.5,618.8 980,616.2 990,617.5 995,608.8 1001.2,605 1003.8,602.5 1012.5,603.8 1015,610 1016.2,620 1022.5,627.5 1017.5,635 1017.5,641.2 1021.2,648.8 1021.2,653.8 1040,655 1053.8,653.8 1056.2,650 1065,647.5 1072.5,643 1081.2,645 1082.5,656.2 1090,663.8 1086.2,673.8 1090,682.5 1082.5,690 1082.5,697.5 1090,703.8 1098.8,715 1103.8,717.5 1110,720 1110,726.2 1125,726.2 1130,716.2 1136.2,711.2 1141.2,710 1152.5,707.5 1155,702.5 1161.2,703.8 1160,708.8 1182.5,712.5 1185,716.2 1190,697.5 1197.5,700 1210,697.5 1215,695 1222.5,697.5 1225,701.2 1236.2,696.2 1245,695 1247.5,696.2 1250,686.2 1260,675 1267.5,670 1275,660 1272.5,652.5 1277.5,638.8 1281.2,625 1278.8,615 1282.5,607.5 1292.5,603.8 1300,598.8 1307.5,598.8 1315,610 1320,605 1326.2,605 1327.5,600 1328.8,606.2 1340,608.8 1348.8,595 1352.5,585 1351.2,578.8 1357.5,577.5 1356.2,565 1365,556.2 1370,553.8 1373.8,546.2 1371.2,541.2 1377.5,537.5 1385,538.8 1391.2,520 1398.8,518.8 1405,513.8 1412.5,510"/><polyline points="1412.5,510 1419.8,508.8"/><polyline points="1072.5,643 1075,637.5 1071.2,632.5 1075,625 1073.8,617.5 1081.2,613.8 1097.5,605 1100,600 1108.8,591.2 1105,583.8 1102.5,580 1101.2,565 1108.8,561.2 1106.2,552.5 1103.8,535 1097.5,525 1093.8,523.8 1090,510 1085,506.2 1073.8,507.5 1074.8,502.5"/><polyline points="1103.8,717.5 1105,723.8 1102.5,737.5 1095,745 1092.5,752.5 1096.2,756.2 1100,760 1097.5,765 1103.8,772.5 1107.5,782.5 1112.5,800 1120,801.2 1126.2,805 1123.8,811.2 1133.8,817.5 1137.5,827.5 1142.5,840 1137.5,850 1142.5,860.8"/><polyline points="891.2,623.8 885,626.2 877.5,635 882.5,645 875,665 875,680 886.2,683.8 883.8,690 890,707.5 892.5,730 880,736.2 875,736.2 860,730 855,736.2 846.2,736.2 842.5,745 835,755 832.5,765 836.2,785 837.5,797.5 833.8,817.5 830,823.8 825,827.5 817.5,826.2 815,832.5 807.5,831.2"/><polyline points="830,823.8 837.5,826.2 843.8,840 846.2,852.5 847.5,860.8"/><polyline points="1162.5,513.8 1167.5,508.8 1175,510 1180,520 1187.5,527.5 1190,536.2 1197.5,545 1201.2,555 1206.2,565 1208.8,578.8 1216.2,576.2 1213.8,565 1217.5,552.5 1211.2,533.8 1222.5,535 1225,527.5 1232.5,528.8 1238.8,518.8 1230,505 1229.8,502.5"/><polyline points="1375.4,502.5 1377.5,505 1382.5,508.8 1385,515 1391.2,520"/><polyline points="1372.5,490 1372.3,491.4"/><polyline points="1385,538.8 1400,550 1405,556.2 1402.5,561.2 1407.5,570 1412.5,573.1"/><polyline points="1142.5,860.8 1147.5,851.2 1156.2,848.8 1167.5,850 1177.5,842.5 1186.2,840 1188.8,835 1197.5,836.2 1206.2,833.8 1207.5,826.2 1203.8,822.5 1210,817.5 1211.2,808.8 1222.5,800 1236.2,801.2 1247.5,800 1262.5,805 1270,803.8 1282.5,801.2 1293.8,805 1310,800 1316.2,790 1320,783.8 1320,772.5 1332.5,771.2 1337.5,767.5 1352.5,771.2 1360,781.2 1370,773.8 1377.5,771.2 1385,772.5 1390,771.2 1391.2,763.8 1397.5,755 1405,747.5 1412.5,743.8"/><polyline points="1639.5,502.5 1643.8,510 1653.8,520 1651.2,530 1655,535 1658.8,533.8 1668.8,545 1667.5,551.2 1663.8,555 1665,561.2 1672.5,558.8 1687.5,560 1691.2,555 1698.8,556.2 1702.5,553.8 1717.5,555.5"/><polyline points="1789.2,502.5 1792.5,507.5 1795,515 1802.5,520 1807.5,521.2 1812.5,513.8 1822.5,507.5 1835,505.5 1857.5,507.5 1865,515 1877.5,532.5 1887.5,527.5 1900,532.5 1906.2,535 1907.5,542.5 1913.8,545 1918.8,542.5 1923.8,535 1937.5,527.5 1952.5,521.2 1967.5,521.2 1982.5,517.5 1995,508.8 2010,505 2012.5,508.8"/><polyline points="1807.5,521.2 1800,525 1785,526.2 1775,522.5 1772.5,527.5 1767.5,530 1757.5,530 1755,537.5 1750,540 1742.5,538.8 1735,543.8 1730,550 1725,547.5 1722.5,552.5 1717.5,555.5"/><polyline points="1717.5,555.5 1717.5,567.5 1715,573.8 1708.8,578.8 1710,590 1717.5,597.5 1725,600 1730,603.8 1740,606.2 1746.2,610 1748.8,625 1755,633.8 1760,637.5 1767.5,638.8 1775,637.5 1776.2,642.5 1775,647.5 1782.5,660 1772.5,662.5 1781.2,670 1777.5,672.5 1766.2,673.8 1763.8,680 1768.8,687.5 1760,698.8 1750,705 1735,705 1730,701.2 1725,706.2 1721.2,712.5 1725,720 1725,727.5 1715,726.2 1711.2,732.5 1707.5,727.5 1700,728.8 1695,731.2 1682.5,733.8 1657.5,743.8 1656.2,750 1647.5,757.5 1640,772.5 1641.2,780 1645,787.5 1641.2,795 1643.8,798.8 1636.2,802.5 1628.8,797.5 1617.5,793.8 1600,782.5 1595,777.5 1590,776.2 1585,772.5 1578.8,772.5 1570,777.5 1562.5,772.5 1557.5,775 1550,771.2 1542.5,767.5 1535,765 1530,760 1528.8,755 1531.2,751.2 1525,747.5 1515,745 1507.5,735 1495,725 1467.5,712.5"/><polyline points="1467.5,712.5 1467.5,702.5 1463.8,687.5 1453.8,673.8 1463.8,660 1462.5,652.5 1456.2,640 1440,632.5 1437.5,622.5 1431.2,617.5 1425,616.2 1417.5,602.5 1422.5,598.8 1422.5,587.5 1418.8,583.8 1413.8,576.2 1407.5,571.8"/><polyline points="1467.5,712.5 1462.5,725 1466.2,730 1467.5,742.5 1475,753.8 1467.5,762.5 1455,760 1447.5,765 1441.2,767.5 1436.2,770 1432.5,758.8 1430,755 1426.2,748.8 1417.5,747.5 1413.8,742.5 1407.5,747.5"/><polyline points="1598.8,781.2 1592.5,792.5 1588.8,800 1585,795 1580,792.5 1572.5,793.8 1565,795 1558.8,797.5 1560,805 1570,811.2 1580,812.5 1587.5,816.2 1580,822.5 1572.5,826.2 1560,836.2 1547.5,840 1543.8,845 1547.5,855 1547.5,860.8"/><polyline points="1725,727.5 1730,728.8 1742.5,731.2 1750,736.2 1760,747.5 1770,755 1780,760 1790,761.2 1800,763.8 1810,766.2 1820,767.5 1830,762.5 1836.2,762.5 1842.5,770 1845,777.5 1840,782.5 1847.5,785 1855,792.5 1863.8,801.2 1860,806.2 1870,815 1877.5,822.5 1877.5,832.5 1876.2,838.8 1883.8,837.5 1887.5,830 1897.5,820 1905,822.5 1912.5,827.5 1920,826.2 1927.5,823.8"/><polyline points="1927.5,823.8 1925,797.5 1932.5,796.2 1947.5,793.8 1962.5,800 1963.8,792.5 1970,787.5 1980,783.8 1985,780 1992.5,770 1996.2,760 2005,747.5 2012.5,743.7"/><polyline points="1927.5,823.8 1932.5,827.5 1935,833.8 1931.2,840 1937.5,840 1941.2,833.8 1947.5,835 1946.2,845 1942.5,852.5 1941.2,860.8"/><polyline points="2007.5,505.3 2010,505 2013.8,512.5 2017.5,521.2 2027.5,527.5 2031.2,533.8 2030,543.8 2036.2,551.2 2047.5,567.5 2062.5,575 2070,581.2 2075,588.8 2080,598.8 2088.8,593.8 2093.8,595 2097.5,591.2 2098.8,571.2 2112.5,570 2117.5,580 2120,585 2130,587.5 2137.5,591.2 2152.5,588.8 2156.2,587.5 2158.8,596.2 2170,602.5 2178.8,605.5 2188.8,615 2200,615 2205,611.2 2210,605 2215,605 2225,625 2233.8,628.8 2247.5,626.2 2250,626.2 2260,630 2265,642.5 2270,650 2280,655 2290,661.2 2300,657.5 2310,651.2 2320,652.5 2327.5,655 2325,662.5 2317.5,670 2318.8,682.5 2330,697.5 2328.8,715 2321.2,720 2315,728.8 2305,737.5 2302.5,750 2295,750 2287.5,751.2 2280,753.8 2275,755 2275,762.5 2282.5,770 2287.5,777.5 2297.5,780 2305,783.8 2310,780 2318.8,781.2 2315,790 2307.5,795 2290,790 2282.5,795 2277.5,802.5 2270,831.2 2280,830 2292.5,832.5 2297.5,842.5 2295,847.5 2300,860.8"/><polyline points="2080,598.8 2087.5,608.8 2080,612.5 2082.5,617.5 2077.5,622.5 2072.5,628.8 2078.8,635 2076.2,646.2 2072.5,653.8 2073.8,665 2065,680 2062.5,685 2066.2,692.5 2066.2,702.5 2070,707.5 2062.5,715 2060,717.5"/><polyline points="2060,717.5 2050,721.2 2037.5,717.5 2025,718.8 2022.5,726.2 2032.5,730 2020,740 2007.5,746.2"/><polyline points="2060,717.5 2070,723.8 2065,730 2075,735 2080,731.2 2086.2,731.2 2083.8,747.5 2087.5,757.5 2080,762.5 2085,768.8 2102.5,771.2 2106.2,783.8 2111.2,787.5 2113.8,797.5 2110,805 2113.8,807.5 2107.5,815 2108.8,827.5 2110,837.5 2115,845 2116.2,855 2125,860.8"/><polyline points="227.5,862.5 232.5,865 232.5,871.2 237.5,873.8 238.8,882.5 246.2,892.5 253.8,891.2 260,893.8 266.2,902.5 273.8,917.5 287.5,915 291.2,913.8 301.2,922.5 302.5,932.5 300,936.2 305,943.8 310,940 310,935 320,936.2 326.2,935 335,917.5 347.5,922.5 360,933.8 375,938.8 380,933.8 390,935 410,936.2 420,946.2 435,941.2 447.5,945 452.5,948.8 462.5,952.5 471.2,948.8 477.5,947.5 485,943.8 502.5,944.5 512.5,952.5 515,960 530,967.5 541.2,985 552.5,983.8 562.5,980 570,972.5 583.8,952.5 640,946.2 650,942.5 660,940.5 670,938.8 687.5,937.5 693.8,932.5 700,922.5 705,910 706.2,897.5 717.5,895 740,890 745,882.5 750,878.8 756.2,877.5 760,882.5 763.8,877.5 762.5,870 770,866.2 775,868.8 782.5,872.5 790,870 795,863.8 807.5,870 812.5,867.4"/><polyline points="222.6,861.6 225,861.2 227.5,862.5"/><polyline points="452.3,862.5 452.5,865 460,872.5 468.8,871.2 472.5,866.2 477.5,873.8 482.5,876.2 495,888.8 500,898.8 497.5,907.5 511.2,925 505,935 502.5,944.5"/><polyline points="622.7,862.5 622.5,865 615,862.5"/><polyline points="615,862.5 602.5,863.8 590,870 575,890 570,893.8 570,902.5 566.2,903.8 557.5,912.5 552.5,915 546.2,931.2 546.2,945 552.5,960 546.2,975 545,985"/><polyline points="807.5,869.6 811.2,871.2 818.8,865 822.2,862.5"/><polyline points="885,862.5 897.5,875 910,878.8 916.2,883.8 915,891.2 922.5,888.8 928.8,897.5 940,893.8 947.5,895 948.8,903.8 943.8,911.2 952.5,906.2 956.2,913.8 961.2,922.5 965,910 972.5,907.5 992.5,913.8 1000,916.2 1006.2,932.5 1007.5,936.2 1015,945 1025,946.2 1033.8,937.5 1040,945 1042.5,953.8 1050,957.5 1043.8,967.5 1050,977.5 1045,985 1043.8,1002.5 1036.2,1016.2 1038.8,1030 1046.2,1035 1050,1032.5 1056.2,1042.5 1063.8,1047.5 1068.8,1060 1077.5,1051.2 1085,1052.5 1090,1065 1086.2,1070 1087.5,1087.5 1080,1091.2 1085,1100 1092.5,1102.5 1090,1110 1088.8,1121.2 1100,1127.5 1110,1135 1125,1140 1131.2,1145 1133.8,1157.5 1131.2,1172.5 1135,1185 1128.8,1190 1136.2,1197.5 1138.8,1200 1141.9,1202.5"/><polyline points="823.2,861.8 827.5,858.8 835,861.2 842.7,855.5"/><polyline points="850.1,851.3 860,853.8 872.5,855 882.5,860 885,862.5"/><polyline points="1006.2,932.5 1020,925 1028.8,921.2 1030,912.5 1035,910 1050,918.8 1062.5,918.8 1075,915.5 1087.5,918.8 1102.5,917.5 1105,911.2 1102.5,903.8 1113.8,898.8"/><polyline points="1113.8,898.8 1112.5,887.5 1115,880 1113.8,872.5 1122.5,862.5"/><polyline points="1129.6,862.5 1132.5,867.5 1135.8,862.5"/><polyline points="1122.5,862.5 1127.5,858.8 1129.6,862.5"/><polyline points="1135.8,862.5 1137.5,860 1137.7,859.9"/><polyline points="1113.8,898.8 1118.8,897.5 1125,902.5 1132.5,896.2 1138.8,896.2 1142.5,907.5 1155,910 1177.5,911.2 1182.5,906.2 1210,908.8 1222.5,902.5 1237.5,902.5 1242.5,905 1250,903.8 1257.5,897.5 1272.5,896.2 1280,903.8 1285,911.2 1300,915 1315,916.2 1317.5,923.8 1325,915 1345,917.5 1347.5,925 1342.5,932.5 1347.5,940 1356.2,947.5 1356.2,970 1370,970 1380,972.5 1390,978.8 1400,967.5 1410,965 1412.5,965.6"/><polyline points="1177.5,911.2 1175,917.5 1166.2,922.5 1166.2,932.5 1175,942.5 1177.5,962.5 1186.2,972.5 1187.5,990 1195,1000 1210,1000 1222.5,1007.5 1232.5,1000 1240,1015 1237.5,1035 1245,1057.5 1260,1065 1275,1063.8 1271.2,1077.5 1282.5,1081.2 1292.5,1095 1287.5,1110 1282.5,1115 1262.5,1118.8 1263.8,1130 1275,1142.5 1278.8,1175"/><polyline points="1021.7,1202.5 1025,1200 1035,1195 1043.8,1192.5 1047.5,1200 1047.3,1202.5"/><polyline points="1228.4,1195.9 1233.6,1188.1 1240.7,1190.1 1249.7,1183.6 1252.3,1184.9 1256.2,1181 1276.8,1175.8 1279.4,1177.1 1289.7,1180.4 1296.8,1181 1306.5,1175.2 1313.6,1166.2 1314.3,1173.9 1315.5,1177.1 1320.7,1177.1 1323.3,1179.7 1326.5,1178.4 1328.5,1173.9 1336.2,1172 1341.4,1173.9 1352.3,1177.8 1358.8,1175.2 1364,1170 1371.7,1165.5 1374.9,1172.6 1380,1177.1"/><polyline points="1345.9,1189.4 1356.9,1195.2 1380,1196.5"/><polyline points="1370.4,1158.6 1377.1,1158.6 1383,1155.6 1389,1157.9 1395.6,1154.9 1400.1,1146 1404.5,1144.5 1415.6,1147.5 1417.9,1141.5 1427.5,1138.6 1430.5,1140.8 1435.7,1140.1 1438.6,1133.4 1447.5,1135.6 1454.2,1139.3 1457.2,1142.3 1460,1142.3"/><polyline points="1370.1,1160 1371.4,1166.7 1375.5,1173.5 1380.9,1177.5 1387.6,1179.5 1391.6,1188.3 1394.3,1184.9 1400.4,1182.9 1403.1,1180.2 1407.8,1184.9 1414.6,1188.3 1423.3,1186.3 1432.1,1181.6 1437.5,1177.9 1441.5,1177.5 1449.6,1172.8 1446.9,1176.8 1441.5,1182.2 1434.8,1183.6 1431.4,1186.3 1423.3,1193.7 1425.3,1199.8 1421.3,1203.8 1414.6,1205.8 1407.1,1204.5 1400.4,1199.8 1387.6,1196.7 1378.8,1198.1 1367.4,1195.4 1357.3,1195.4"/><polyline points="1357.3,1195.4 1347.2,1189.6 1325.6,1191 1322.2,1189 1316.8,1183.6"/><polyline points="1316.8,1183.6 1324.9,1192.3 1333.7,1203.1 1337.7,1211.9 1339.1,1203.1 1343.1,1199.1 1347.2,1199.8 1353.9,1201.8"/><polyline points="1357.3,1195.4 1353.9,1201.8"/><polyline points="1353.9,1201.8 1364,1207.2 1369.4,1207.8 1375.5,1207.8 1382.2,1218 1378.8,1218.6 1371.4,1224.7 1362.7,1226.7 1355.3,1225.4 1349.9,1228.1 1347.2,1231.4 1348.5,1236.1 1352.6,1238.2 1361.3,1238.2 1361.3,1230.8 1370.1,1238.2 1376.8,1242.2 1380.9,1240.2 1387.6,1249.6 1396.4,1252.3 1406.5,1251 1402.4,1255.7 1404.4,1260"/><polyline points="1316.2,1220.6 1318.9,1227.4 1322.2,1235.5 1327,1240.9 1340.4,1246.9 1360.6,1253 1380.9,1256.4 1393,1260"/><polyline points="1550.3,862.5 1552.5,880 1553.8,892.5 1547.5,895 1538.8,902.5 1530,903.8 1523.8,910 1522.5,903.8 1518.8,910 1517.5,917.5 1507.5,921.2 1500,927.5 1495,936.2"/><polyline points="1407.5,966.2 1417.5,970 1430,972.5 1450,970 1452.5,962.5 1453.8,955 1451.2,951.2 1458.8,947.5 1456.2,940 1465,937.5 1472.5,938.8 1480,935 1478.8,930 1487.5,927.5 1491.2,930 1495,936.2"/><polyline points="1495,936.2 1495,945 1501.2,951.2 1500,960 1498.8,975 1502.5,980 1491.2,986.2 1493.8,997.5 1491.2,1006.2 1502.5,1008.8"/><polyline points="1502.5,1008.8 1517.5,1013.8 1525,1016.2 1531.2,1022.5 1535,1020 1550,1016.2 1551.2,1011.2 1558.8,1010 1561.2,1020 1567.5,1025 1580,1023.8 1595,1020 1612.5,1025 1627.5,1027.5 1633.8,1026.2 1645,1022.5 1662.5,1018.8 1677.5,1011.2 1692.5,1016.2 1715,1018.8 1717.5,1010 1712.5,1002.5 1720,980 1712.5,977.5 1713.8,966.2 1703.8,955 1708.8,947.5 1716.2,943.8 1715,938.8 1705,932.5 1708.8,925 1708.8,913.8 1717.5,920 1728.8,913.8 1737.5,911.2 1755,912.5 1770,916.2 1787.5,920 1797.5,913.8 1807.5,912.5 1822.5,922.5 1837.5,917.5 1840,925 1847.5,930 1845,932.5 1855,945 1852.5,957.5 1857.5,963.8 1865,960 1867.5,965 1877.5,967.5 1886.2,963.8 1910,962.5 1907.5,952.5 1915,948.8 1910,935 1912.5,921.2 1922.5,918.8 1932.5,923.8 1941.2,928.8 1948.8,922.5 1947.5,915 1945,902.5 1952.5,897.5 1948.8,880 1940,877.5 1937.9,862.5"/><polyline points="1910,962.5 1912.5,971.2 1920,972.5 1925,985 1930,995 1930,1003.8 1940,1008.8 1948.8,1012.5 1955,1011.2 1967.5,1023.8 1977.5,1028.8 1986.2,1030 1982.5,1042.5 1977.5,1048.8 1970,1047.5 1967.5,1057.5 1952.5,1058.8 1950,1062.5 1955,1075 1945,1077.5 1952.5,1082.5 1960,1092.5 1967.5,1102.5 1975,1107.5 1972.5,1117.5 1962.5,1122.5 1965,1132.5"/><polyline points="1633.8,1026.2 1643.8,1063.8 1650,1061.2 1657.5,1056.2 1668.8,1056.2 1665,1062.5 1667.5,1070 1670,1090 1675,1097.5 1675,1108.8 1678.8,1117.5 1693.8,1125 1702.5,1140 1696.2,1145 1690,1160 1683.8,1162.5 1685,1166.2 1693.8,1170 1695,1175 1691.2,1182.5"/><polyline points="1502.5,1008.8 1507.5,1025 1505,1037.5 1497.5,1036.2 1496.2,1041.2 1505,1047.5 1507.5,1057.5 1506.2,1070 1500,1075 1488.8,1078.8 1482.5,1092.5 1485,1097.5 1496.2,1103.8 1497.5,1110 1492.5,1113.8 1487.5,1117.5 1493.8,1121.2 1485,1128.8 1471.2,1131.2 1482.5,1135 1472.5,1140 1457.5,1141.2 1450,1137.5 1437.5,1133.8 1431.2,1138.8"/><polyline points="1812.5,1185 1830,1172.5 1850,1170 1865,1168.8 1872.5,1176.2 1880,1167.5 1890,1160 1910,1152.5 1920,1150 1930,1152.5 1940,1163.8 1943.8,1147.5 1965,1132.5 1985,1122.5 1995,1125 2000,1132.5 2012.5,1115"/><polyline points="1940,1163.8 1935,1173.8 1931.2,1173.8"/><polyline points="2301.2,862.5 2303.8,867.5 2291.2,880 2297.5,885 2310,882.5 2311.2,890 2300,900 2293.8,912.5 2292.5,920 2295,927.5 2285,930 2285,935 2288.8,940 2286.2,950 2285,962.5 2277.5,967.5 2262.5,963.8 2250,965 2242.5,965 2235,961.2 2215,963.8 2207.5,963.8 2200,958.8 2180,958.8 2172.5,965 2166.2,977.5 2165,990 2155,990 2145,1000 2120,1003.8 2112.5,1012.5 2108.8,1025 2108.8,1040 2100,1057.5 2112.5,1061.2 2110,1067.5 2102.5,1072.5 2101.2,1085 2103.8,1092.5 2092.5,1105 2086.2,1096.2 2080,1096.2 2072.5,1093.8 2062.5,1092.5 2047.5,1097.5 2030,1095 2020,1102.5 2007.5,1119.7"/><polyline points="2130,862.5 2135,870 2132.5,875 2126.2,877.5 2128.8,885 2145,885 2150,901.2 2160,907.5 2172.5,912.5 2175,917.5 2172.5,925 2180,931.2 2190,931.2 2200,933.8 2201.2,946.2 2200,958.8"/><polyline points="2129,861 2130,862.5"/><polyline points="1132.5,1197.5 1140,1200 1145,1208.8 1155,1212.5 1150,1220 1142.5,1222.5 1130,1222.5 1120,1227.5 1116.2,1220 1111.2,1210 1106.2,1205 1103.8,1211.2 1097.5,1213.8 1095,1222.5 1090,1221.2 1085,1213.8 1078.8,1211.2 1077.5,1203.8 1072.5,1203.8 1065,1213.8 1058.8,1205 1056.2,1215 1051.2,1217.5 1046.2,1223.8 1045,1217.5 1047.5,1210 1046.5,1197.5"/><polyline points="1030.8,1197.5 1025,1200 1015,1207.5 1013.8,1217.5 1016.2,1232.5 1015,1240 1023.8,1251.2 1023.8,1257.5 1016.2,1267.5 1015,1275 1017.5,1287.5 1015,1290 993.8,1295 991.2,1300 992.5,1315 985,1322.5 983.8,1326.2 973.8,1330 971.2,1337.5 965,1341.2 961.2,1346.2 967.5,1361.2 963.8,1366.2 963.8,1373.8 955,1375 937.5,1372.5 930,1378.8 930,1383.8 937.5,1387.5 943.8,1406.2 952.5,1411.2 965,1416.2 975,1420 988.8,1423.8 998.8,1421.2 995,1416.2 998.8,1408.8 1003.8,1407.5 1015,1415 1020,1406.2 1032.5,1400 1041.2,1395 1046.2,1390 1057.5,1387.5 1061.2,1386.2 1072.5,1388.8 1087.5,1395 1097.5,1402.5 1101.2,1410 1102.5,1425 1107.5,1422.5 1111.2,1408.8 1110,1385 1105,1382.5 1101.2,1380 1096.9,1380"/><polyline points="1096.9,1380 1095,1380 1097.5,1385 1096.9,1380"/><polyline points="1096.9,1380 1096.2,1375 1106.2,1363.8"/><polyline points="1175,1300 1183.8,1287.5 1197.5,1273.8 1202.5,1263.8 1220,1237.5 1220,1227.5 1230,1225 1233.8,1207.5 1230,1200 1230.6,1197.5"/><polyline points="1108.8,1358.8 1125,1350 1155,1321.2"/><polyline points="1105.9,1362.7 1102.2,1366 1098.9,1367 1091.8,1365.1 1092.3,1356.6 1093.7,1341.5 1097.5,1338.7 1095.6,1335.8 1096,1329.2 1098.9,1325 1096.5,1321.2 1097.9,1318.4 1101.7,1322.6 1104.1,1327.4 1102.2,1334 1102.6,1341 1105.9,1344.8 1108.3,1354.7 1109.7,1353.8 1114.9,1351.9 1115.4,1349.5 1116.8,1348.6 1120.1,1347.2 1122,1346.2 1123.9,1344.8 1122,1342.5 1116.8,1340.1 1115.8,1335.8 1118.7,1332.1 1124.8,1330.7 1126.2,1328.8 1128.1,1329.7 1132.4,1335.8 1133.3,1330.7 1130.9,1326.4 1130.5,1321.7 1131.9,1319.8 1132.8,1322.6 1134.7,1327.8 1134.7,1321.2 1136.1,1315.6 1138.5,1314.6 1142.3,1315.1 1147.5,1320.3 1151.2,1318.9 1152.6,1309.4 1155,1306.1 1156.4,1308 1157.4,1318.4 1169.6,1305.7 1176.2,1300"/><polyline points="1407.5,1266.2 1420,1270 1432.5,1273.8 1442.5,1267.5 1465,1262.5 1480,1266.2 1490,1263.8 1495,1258.8 1502.5,1262.5 1510,1260 1516.2,1255 1518.8,1247.5 1520,1262.5 1527.5,1265 1526.2,1271.2 1540,1277.5 1550,1278.8 1552.5,1272.5 1558.8,1268.8 1557.5,1262.5 1562.5,1261.2 1566.2,1265 1570,1250"/><polyline points="1406,1263.7 1407.5,1266.2"/><polyline points="1566.2,1265 1566.2,1280 1565,1290 1572.5,1296.2 1582.5,1300 1575,1302.5 1572.5,1311.2 1562.5,1308.8 1555,1315 1550,1313.8 1535,1325 1522.5,1330 1515,1332.5 1510,1326.2 1510,1332.5 1485,1345 1475,1352.5 1471.2,1360 1465,1365 1460,1365 1450,1372.5 1435,1382.5 1431.2,1388.8 1432.5,1397.5 1440,1405 1452.5,1406.2 1460,1400 1480,1401.2 1490,1407.5 1500,1415 1510,1427.5 1522.5,1435 1537.5,1430 1550,1438.8 1557.5,1446.2 1561.2,1462.5 1563.8,1480 1562.5,1486.2 1558.8,1490"/><polyline points="1570,1250 1572.5,1251.2 1585,1252.5 1600,1260 1615,1268.8 1632.5,1270 1647.5,1275 1655,1285 1662.5,1295 1670,1291.2 1685,1291.2 1697.5,1300 1702.5,1315 1702.5,1322.5 1712.5,1330 1723.8,1336.2"/><polyline points="1705,1255 1710,1290 1715,1307.5 1725,1332.5 1723.8,1336.2"/><polyline points="1723.8,1336.2 1730,1340 1765,1397.5 1782.5,1410 1810,1403.8 1815,1392.5 1822.5,1381.2 1826.2,1390 1840,1400 1847.5,1398.8 1852.5,1387.5 1860,1382.5 1877.5,1381.2 1880,1385 1900,1386.2 1910,1390 1916.2,1395 1917.5,1402.5 1910,1403.8 1902.5,1407.5 1900,1413.8 1893.8,1417.5 1891.2,1440 1896.2,1448.8 1890,1452.5 1875,1455 1871.2,1461.2 1860,1460 1850,1455 1845,1462.5 1825,1462.5 1820,1452.5 1810,1446.2 1795,1442.5 1782.5,1445 1773.8,1452.5 1775,1462.5 1770,1466.2 1767.5,1472.5 1760,1468.8 1751.2,1475 1742.5,1487.5 1736.2,1500 1730,1498.8 1725,1491.2 1720,1491.2 1710,1493.8 1697.5,1496.2 1687.5,1500 1672.5,1505 1662.5,1512.5 1652.5,1525 1646.2,1537.5 1640,1542.5 1637.5,1550.8"/><polyline points="1447.5,1276.2 1475,1280 1497.5,1283.8"/><polyline points="1558.8,1490 1553.8,1497.5 1552.5,1502.5 1556.2,1515 1552.5,1525 1557.5,1531.2 1545,1532.5 1536.2,1537.5 1540,1542.5 1550,1550.8"/><polyline points="1558.8,1490 1565,1493.8 1571.2,1498.8 1572.5,1506.2 1565,1512.5 1566.2,1521.2 1575,1523.8 1580,1532.5 1576.2,1540 1582.5,1545 1586.2,1550.8"/><polyline points="1738.6,1235.3 1744.7,1224.5 1749.4,1220.4 1751.4,1217.7 1751.4,1213.7 1749.4,1208.3 1746.7,1203.6 1746,1200.2 1748.7,1196.8 1749.4,1198.9 1750.8,1202.9 1754.1,1207 1757.5,1209 1760.2,1210.3 1758.2,1213 1756.8,1217.7 1756.8,1223.1 1758.8,1226.5 1761.5,1227.8 1764.2,1227.2 1767.3,1223.8 1771,1223.1 1773.7,1219.8 1777,1217.1 1779.7,1215 1783.1,1209.6 1786.5,1207 1793.2,1202.9 1799.3,1199.5 1804.7,1195.5 1811.4,1188.1 1815.4,1184 1820.2,1180"/><polyline points="1738.6,1235.3 1735.3,1239.3 1729.9,1243.3 1725.8,1244.7 1718.4,1246.4 1716.7,1245.4 1715.7,1242.7 1714,1242.3 1713,1244.7 1713,1248.1 1708.3,1250.1 1704.9,1254.1 1704.3,1260.9 1705.6,1267.6 1707,1275.7 1708.3,1280"/><polyline points="1767.3,1223.8 1759.5,1235.9 1752.8,1247.4 1750.1,1254.1 1744.7,1257.5 1732.6,1261.5 1731.9,1264.2 1728.5,1266.9 1724.5,1271.6 1724.5,1274.3 1729.2,1273.7 1732.6,1271 1738,1268.3 1744,1265.6 1747.4,1262.2 1752.8,1252.8 1760.2,1238 1767.6,1223.8"/><polyline points="1693.5,1180 1694.2,1183.4 1698.2,1190.8 1700.2,1191.8 1709,1192.1 1711,1194.2 1709,1196.8 1709.6,1199.9 1716.4,1199.2 1719.1,1200.9 1725.8,1204.9 1729.9,1205.3 1731.9,1208.3 1733.9,1220.4 1733.2,1225.8 1733.9,1232.6 1735.3,1234.6 1738.6,1235.3"/><polyline points="1637.5,1550.8 1636.2,1550.8 1630,1553.2 1620,1565.8 1603.8,1573.2 1597.5,1570.8 1590,1569.5 1582.5,1570.8 1580,1567.5"/><polyline points="1586.2,1549.5 1592.5,1564.5 1580,1567.5"/><polyline points="1550,1550.8 1550,1552 1556.2,1553.2 1562.5,1555.8 1566.2,1564.5 1577.5,1570.8 1580,1567.5"/></g>
<path fill="#fff" d="M1345.1 1063.8 1342.4 1065.4 1341.0 1073.0 1349.2 1078.3 1352.7 1080.4 1354.0 1089.1 1358.2 1094.6 1356.6 1103.9 1355.6 1110.6 1361.9 1112.4 1361.9 1123.8 1370.0 1127.0 1369.4 1133.2 1365.0 1139.5 1359.0 1147.8 1359.8 1158.5 1361.9 1167.7 1361.9 1178.5 1374.6 1175.7 1370.1 1165.8 1367.7 1157.2 1367.1 1150.0 1371.4 1143.6 1376.0 1135.0 1375.3 1123.4 1367.1 1120.8 1367.1 1109.8 1360.1 1107.2 1362.1 1105.0 1363.5 1093.6 1358.8 1087.2 1357.1 1078.2 1351.7 1074.3 1345.0 1070.7 1346.7 1066.5ZM1308.1 1143.9 1306.9 1146.8 1310.8 1156.2 1315.4 1158.7 1311.0 1167.2 1307.6 1176.2 1313.3 1178.1 1315.8 1169.2 1320.2 1158.4 1314.5 1153.5 1311.0 1145.1ZM1330.1 1140.4 1327.1 1141.1 1321.9 1149.1 1315.9 1157.2 1319.8 1160.0 1325.7 1151.7 1330.8 1143.5Z"/><g fill="none" stroke="#000" stroke-width="2.3" stroke-linejoin="round"><polyline points="1361.9,1178.5 1361.9,1167.7 1359.8,1158.5 1359.0,1147.8 1365.0,1139.5 1369.4,1133.2 1370.0,1127.0 1361.9,1123.8 1361.9,1112.4 1355.6,1110.6 1356.6,1103.9 1358.2,1094.6 1354.0,1089.1 1352.7,1080.4 1349.2,1078.3 1341.0,1073.0 1342.4,1065.4 1345.1,1063.8 1346.7,1066.5 1345.0,1070.7 1351.7,1074.3 1357.1,1078.2 1358.8,1087.2 1363.5,1093.6 1362.1,1105.0 1360.1,1107.2 1367.1,1109.8 1367.1,1120.8 1375.3,1123.4 1376.0,1135.0 1371.4,1143.6 1367.1,1150.0 1367.7,1157.2 1370.1,1165.8 1374.6,1175.7"/><polyline points="1307.6,1176.2 1311.0,1167.2 1315.4,1158.7 1310.8,1156.2 1306.9,1146.8 1308.1,1143.9 1311.0,1145.1 1314.5,1153.5 1320.2,1158.4 1315.8,1169.2 1313.3,1178.1"/><polyline points="1315.9,1157.2 1321.9,1149.1 1327.1,1141.1 1330.1,1140.4 1330.8,1143.5 1325.7,1151.7 1319.8,1160.0"/></g>
<g fill="none" stroke="#000" stroke-linecap="round" stroke-linejoin="round"><polyline stroke-width="4" points="1317.1,1183.8 1323.8,1190.4 1335.6,1202.3"/><polyline stroke-width="4.5" points="1316.5,1221.0 1318.9,1227.4 1322.2,1235.5 1327.0,1240.9 1340.4,1246.9 1360.6,1253.0 1380.9,1256.4 1393.0,1260.0"/><polyline stroke-width="3.5" points="1447.5,1276.2 1475.0,1280.0 1497.5,1283.8"/><polyline stroke-width="3" points="1155.5,1320.8 1138.5,1334.0 1117.7,1355.7 1108.3,1359.9"/></g><polyline fill="none" stroke="#fdb771" stroke-width="1.2" points="1317.5,1222.7 1319.5,1228.1 1322.6,1235.1 1327.0,1240.5 1340.4,1246.6 1360.6,1252.7 1380.9,1256.0 1387.6,1257.7"/>
<polygon fill="#fdb771" stroke="#000" stroke-width="2.3" stroke-linejoin="round" points="1767.3,1223.8 1759.5,1235.9 1752.8,1247.4 1750.1,1254.1 1744.7,1257.5 1732.6,1261.5 1731.9,1264.2 1728.5,1266.9 1724.5,1271.6 1724.5,1274.3 1729.2,1273.7 1732.6,1271.0 1738.0,1268.3 1744.0,1265.6 1747.4,1262.2 1752.8,1252.8 1760.2,1238.0 1767.6,1223.8"/>
<g stroke="#b0b0b0" stroke-width="3.1"><line x1="261.40" y1="93.80" x2="261.40" y2="1643.90"/><line x1="554.55" y1="93.80" x2="554.55" y2="1643.90"/><line x1="847.70" y1="93.80" x2="847.70" y2="1643.90"/><line x1="1140.85" y1="93.80" x2="1140.85" y2="1643.90"/><line x1="1434.00" y1="93.80" x2="1434.00" y2="1643.90"/><line x1="1727.15" y1="93.80" x2="1727.15" y2="1643.90"/><line x1="2020.30" y1="93.80" x2="2020.30" y2="1643.90"/><line x1="2313.45" y1="93.80" x2="2313.45" y2="1643.90"/><line x1="112.50" y1="1641.30" x2="2437.30" y2="1641.30"/><line x1="112.50" y1="1464.70" x2="2437.30" y2="1464.70"/><line x1="112.50" y1="1288.10" x2="2437.30" y2="1288.10"/><line x1="112.50" y1="1111.50" x2="2437.30" y2="1111.50"/><line x1="112.50" y1="934.90" x2="2437.30" y2="934.90"/><line x1="112.50" y1="758.30" x2="2437.30" y2="758.30"/><line x1="112.50" y1="581.70" x2="2437.30" y2="581.70"/><line x1="112.50" y1="405.10" x2="2437.30" y2="405.10"/><line x1="112.50" y1="228.50" x2="2437.30" y2="228.50"/></g>
<rect x="112.50" y="93.80" width="2324.80" height="1550.10" fill="none" stroke="#000" stroke-width="3.1"/>
<g stroke="#000" stroke-width="3.1"><line x1="261.40" y1="1643.90" x2="261.40" y2="1658.50"/><line x1="554.55" y1="1643.90" x2="554.55" y2="1658.50"/><line x1="847.70" y1="1643.90" x2="847.70" y2="1658.50"/><line x1="1140.85" y1="1643.90" x2="1140.85" y2="1658.50"/><line x1="1434.00" y1="1643.90" x2="1434.00" y2="1658.50"/><line x1="1727.15" y1="1643.90" x2="1727.15" y2="1658.50"/><line x1="2020.30" y1="1643.90" x2="2020.30" y2="1658.50"/><line x1="2313.45" y1="1643.90" x2="2313.45" y2="1658.50"/><line x1="97.90" y1="1641.30" x2="112.50" y2="1641.30"/><line x1="97.90" y1="1464.70" x2="112.50" y2="1464.70"/><line x1="97.90" y1="1288.10" x2="112.50" y2="1288.10"/><line x1="97.90" y1="1111.50" x2="112.50" y2="1111.50"/><line x1="97.90" y1="934.90" x2="112.50" y2="934.90"/><line x1="97.90" y1="758.30" x2="112.50" y2="758.30"/><line x1="97.90" y1="581.70" x2="112.50" y2="581.70"/><line x1="97.90" y1="405.10" x2="112.50" y2="405.10"/><line x1="97.90" y1="228.50" x2="112.50" y2="228.50"/></g>
<g font-family="Liberation Sans" font-size="43.3" fill="#000"><text text-anchor="middle" transform="translate(261.40,1702.9) scale(1.090,1)">22.5</text><text text-anchor="middle" transform="translate(554.55,1702.9) scale(1.090,1)">25.0</text><text text-anchor="middle" transform="translate(847.70,1702.9) scale(1.090,1)">27.5</text><text text-anchor="middle" transform="translate(1140.85,1702.9) scale(1.090,1)">30.0</text><text text-anchor="middle" transform="translate(1434.00,1702.9) scale(1.090,1)">32.5</text><text text-anchor="middle" transform="translate(1727.15,1702.9) scale(1.090,1)">35.0</text><text text-anchor="middle" transform="translate(2020.30,1702.9) scale(1.090,1)">37.5</text><text text-anchor="middle" transform="translate(2313.45,1702.9) scale(1.090,1)">40.0</text><text text-anchor="end" transform="translate(79.4,1656.30) scale(1.015,1)">44</text><text text-anchor="end" transform="translate(79.4,1479.70) scale(1.015,1)">45</text><text text-anchor="end" transform="translate(79.4,1303.10) scale(1.015,1)">46</text><text text-anchor="end" transform="translate(79.4,1126.50) scale(1.015,1)">47</text><text text-anchor="end" transform="translate(79.4,949.90) scale(1.015,1)">48</text><text text-anchor="end" transform="translate(79.4,773.30) scale(1.015,1)">49</text><text text-anchor="end" transform="translate(79.4,596.70) scale(1.015,1)">50</text><text text-anchor="end" transform="translate(79.4,420.10) scale(1.015,1)">51</text><text text-anchor="end" transform="translate(79.4,243.50) scale(1.015,1)">52</text></g>
<text font-family="Liberation Sans" font-size="52" fill="#000" transform="translate(309.4,67.9) scale(1.0676,1)">Energy Release Component Percentile Class by Oblast (2025-07-22 Forecast)</text>
<g font-family="Liberation Sans" font-size="43.3" fill="#000"><rect x="2530.0" y="114.0" width="350.7" height="315.8" rx="8" ry="8" fill="#fff" stroke="#d6d6d6" stroke-width="3.8"/><circle cx="2588.3" cy="147.50" r="20.7" fill="#4188bd"/><text transform="translate(2662.9,162.00) scale(0.990,1)">Low</text><circle cx="2588.3" cy="208.20" r="20.7" fill="#b3dceb"/><text transform="translate(2662.9,222.70) scale(1.080,1)">Moderate</text><circle cx="2588.3" cy="268.90" r="20.7" fill="#ffffc5"/><text transform="translate(2662.9,283.40) scale(1.072,1)">High</text><circle cx="2588.3" cy="329.60" r="20.7" fill="#fdb771"/><text transform="translate(2662.9,344.10) scale(1.079,1)">Very High</text><circle cx="2588.3" cy="390.30" r="20.7" fill="#ae1a3c"/><text transform="translate(2662.9,404.80) scale(1.087,1)">Extreme</text></g>
</svg></body></html>
